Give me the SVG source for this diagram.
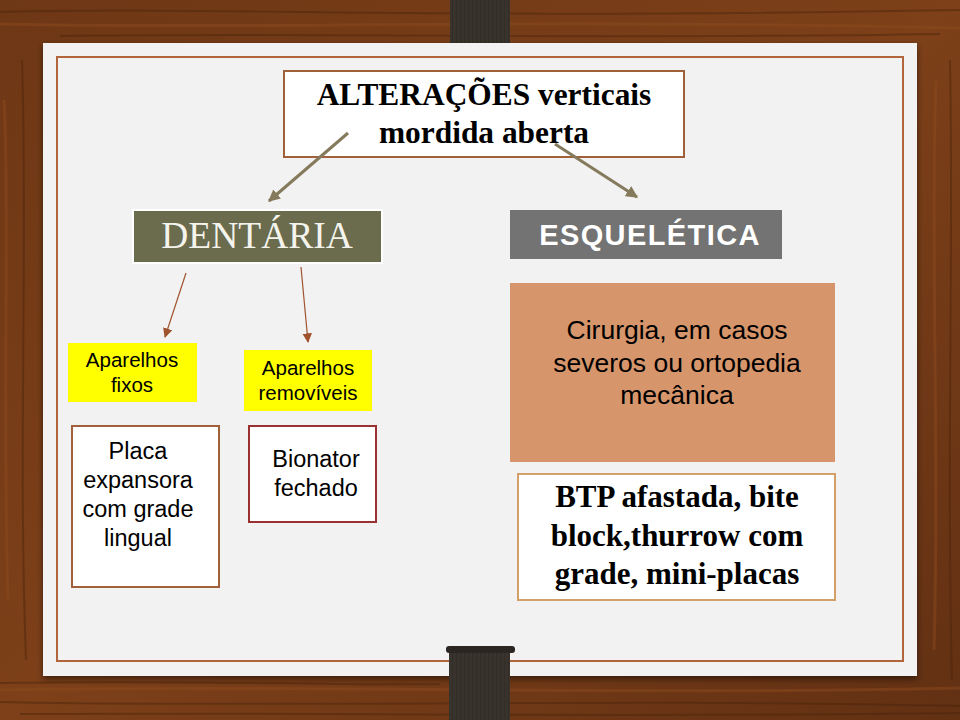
<svg xmlns="http://www.w3.org/2000/svg" width="960" height="720" viewBox="0 0 960 720">
  <defs>
    <linearGradient id="wood" x1="0" y1="0" x2="1" y2="1">
      <stop offset="0" stop-color="#6e3715"/>
      <stop offset="0.5" stop-color="#7d4019"/>
      <stop offset="1" stop-color="#623013"/>
    </linearGradient>
    <linearGradient id="strapg" x1="0" y1="0" x2="1" y2="0">
      <stop offset="0" stop-color="#2f2a25"/>
      <stop offset="0.5" stop-color="#3b352f"/>
      <stop offset="1" stop-color="#2f2a25"/>
    </linearGradient>
    <pattern id="stripes" width="4" height="10" patternUnits="userSpaceOnUse">
      <rect width="4" height="10" fill="#39332d"/>
      <rect width="1" height="10" fill="#2c2722" opacity="0.5"/>
    </pattern>
    <filter id="shadow" x="-5%" y="-5%" width="110%" height="112%">
      <feDropShadow dx="0" dy="3" stdDeviation="3" flood-color="#000" flood-opacity="0.5"/>
    </filter>
    <marker id="ahOlive" viewBox="0 0 10 10" refX="9" refY="5" markerWidth="4" markerHeight="4" orient="auto" markerUnits="strokeWidth">
      <path d="M0,0 L10,5 L0,10 z" fill="#857a5c"/>
    </marker>
    <marker id="ahBrown" viewBox="0 0 10 10" refX="9" refY="5" markerWidth="8" markerHeight="8" orient="auto" markerUnits="strokeWidth">
      <path d="M0,0 L10,5 L0,10 z" fill="#a0522d"/>
    </marker>
    <style>
      .serifB { font-family: "Liberation Serif", "DejaVu Serif", serif; font-weight: bold; fill: #000; text-anchor: middle; }
      .sans { font-family: "Liberation Sans", Arial, sans-serif; fill: #000; text-anchor: middle; }
      .grain { fill: none; stroke: #4a230c; stroke-opacity: 0.45; stroke-width: 2; }
      .grainL { fill: none; stroke: #8c4a1e; stroke-opacity: 0.5; stroke-width: 3; }
    </style>
  </defs>

  <!-- wood background -->
  <rect width="960" height="720" fill="url(#wood)"/>
  <g id="wood-grain">
    <path class="grain" d="M0,12 C200,6 400,20 960,10"/>
    <path class="grainL" d="M0,24 C250,30 500,18 960,28"/>
    <path class="grain" d="M60,36 C300,32 600,40 940,34"/>
    <path class="grainL" d="M0,690 C300,684 600,696 960,688"/>
    <path class="grain" d="M0,702 C280,708 620,698 960,706"/>
    <path class="grain" d="M20,714 C300,712 600,718 960,713"/>
    <path class="grain" d="M0,683 C200,680 400,686 440,684"/>
    <path class="grainL" d="M4,100 C10,200 2,400 8,600"/>
    <path class="grain" d="M22,60 C28,250 18,450 26,660"/>
    <path class="grainL" d="M936,80 C930,250 940,450 934,650"/>
    <path class="grain" d="M950,60 C954,260 946,460 952,680"/>
  </g>

  <!-- top strap -->
  <g id="strap-top">
    <rect x="450" y="0" width="60" height="72" fill="url(#stripes)"/>
    <rect x="448" y="66" width="64" height="6" rx="3" fill="#2b2622"/>
  </g>

  <!-- paper card -->
  <rect id="card" x="43" y="43" width="874" height="633" fill="#f2f2f2" filter="url(#shadow)"/>
  <rect x="57" y="57" width="846" height="604" fill="none" stroke="#b0663a" stroke-width="2"/>

  <!-- bottom strap -->
  <g id="strap-bottom">
    <rect x="449" y="650" width="61" height="70" fill="url(#stripes)"/>
    <rect x="446" y="646" width="69" height="7" rx="3" fill="#2b2622"/>
  </g>

  <!-- title -->
  <g id="title">
    <rect x="284" y="71" width="400" height="86" fill="#ffffff" stroke="#a0603a" stroke-width="2"/>
    <text class="serifB" x="484" y="105" font-size="31.4">ALTERAÇÕES verticais</text>
    <text class="serifB" x="484" y="143" font-size="31.4">mordida aberta</text>
  </g>

  <!-- DENTÁRIA -->
  <g id="dentaria">
    <rect x="133" y="210" width="249" height="53" fill="#6b6b4e" stroke="#ffffff" stroke-width="2"/>
    <text x="257" y="248" font-family="Liberation Serif, DejaVu Serif, serif" font-size="37.5" fill="#f4f4ec" text-anchor="middle">DENTÁRIA</text>
  </g>

  <!-- ESQUELÉTICA -->
  <g id="esqueletica">
    <rect x="510" y="210" width="272" height="49" fill="#737373"/>
    <text x="650" y="245" font-family="Liberation Sans, Arial, sans-serif" font-size="29" font-weight="bold" fill="#ffffff" text-anchor="middle" letter-spacing="1.4">ESQUELÉTICA</text>
  </g>

  <!-- Aparelhos fixos -->
  <g id="aparelhos-fixos">
    <rect x="68" y="343" width="129" height="59" fill="#ffff00"/>
    <text class="sans" x="132" y="367" font-size="20.5">Aparelhos</text>
    <text class="sans" x="132" y="392" font-size="20.5">fixos</text>
  </g>

  <!-- Aparelhos removíveis -->
  <g id="aparelhos-removiveis">
    <rect x="244" y="350" width="128" height="61" fill="#ffff00"/>
    <text class="sans" x="308" y="375" font-size="20.5">Aparelhos</text>
    <text class="sans" x="308" y="400" font-size="20.5">removíveis</text>
  </g>

  <!-- Placa expansora -->
  <g id="placa">
    <rect x="72" y="426" width="147" height="161" fill="#ffffff" stroke="#a0603a" stroke-width="2"/>
    <text class="sans" x="138" y="459" font-size="23.5">Placa</text>
    <text class="sans" x="138" y="488" font-size="23.5">expansora</text>
    <text class="sans" x="138" y="517" font-size="23.5">com grade</text>
    <text class="sans" x="138" y="546" font-size="23.5">lingual</text>
  </g>

  <!-- Bionator -->
  <g id="bionator">
    <rect x="249" y="426" width="127" height="96" fill="#ffffff" stroke="#9b3030" stroke-width="2"/>
    <text class="sans" x="316" y="467" font-size="23.5">Bionator</text>
    <text class="sans" x="316" y="496" font-size="23.5">fechado</text>
  </g>

  <!-- Cirurgia -->
  <g id="cirurgia">
    <rect x="510" y="283" width="325" height="179" fill="#d6956b"/>
    <text class="sans" x="677" y="339" font-size="26.5" fill="#111">Cirurgia, em casos</text>
    <text class="sans" x="677" y="372" font-size="26.5" fill="#111">severos ou ortopedia</text>
    <text class="sans" x="677" y="404" font-size="26.5" fill="#111">mecânica</text>
  </g>

  <!-- BTP -->
  <g id="btp">
    <rect x="518" y="474" width="317" height="126" fill="#ffffff" stroke="#d4a06a" stroke-width="2"/>
    <text class="serifB" x="677" y="507" font-size="31">BTP afastada, bite</text>
    <text class="serifB" x="677" y="546" font-size="31">block,thurrow com</text>
    <text class="serifB" x="677" y="584" font-size="31">grade, mini-placas</text>
  </g>

  <!-- connectors (drawn on top, as in the reference) -->
  <g id="connectors">
    <line x1="348" y1="133" x2="269" y2="201" stroke="#857a5c" stroke-width="3" marker-end="url(#ahOlive)"/>
    <line x1="555" y1="144" x2="637" y2="197" stroke="#857a5c" stroke-width="3" marker-end="url(#ahOlive)"/>
    <line x1="186" y1="273" x2="165" y2="337" stroke="#a0522d" stroke-width="1.2" marker-end="url(#ahBrown)"/>
    <line x1="301" y1="267" x2="308" y2="342" stroke="#a0522d" stroke-width="1.2" marker-end="url(#ahBrown)"/>
  </g>
</svg>
